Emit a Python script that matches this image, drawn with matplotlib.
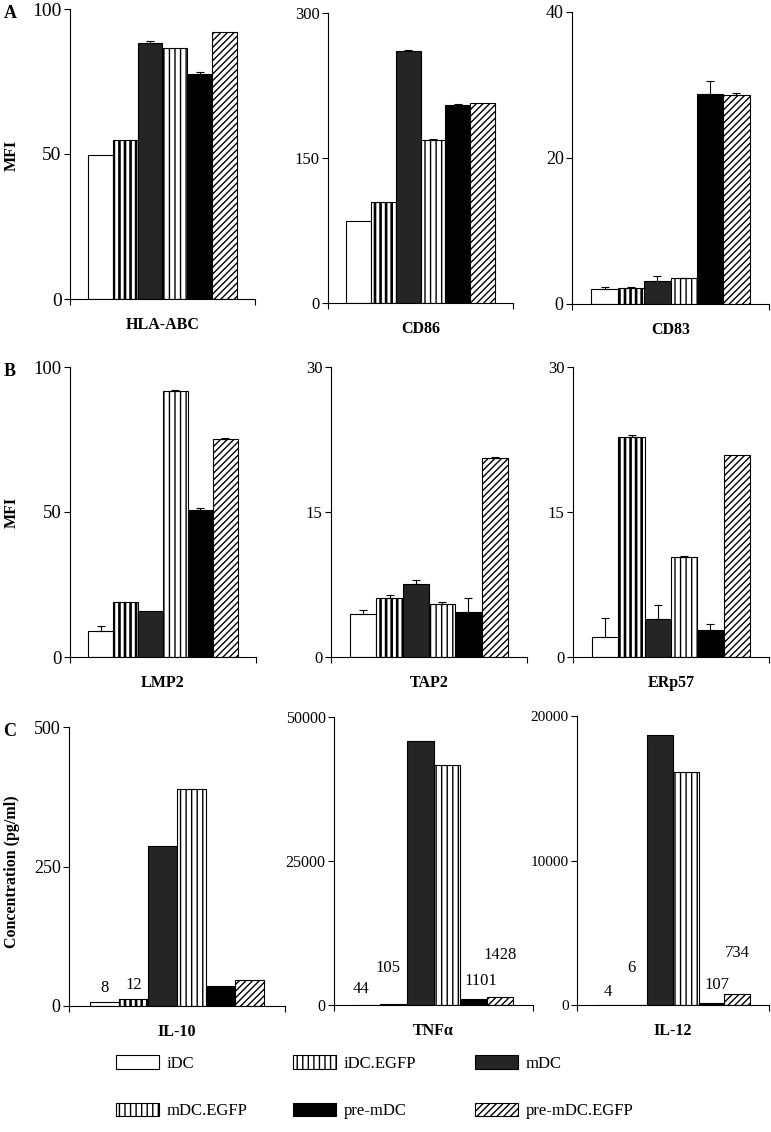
import numpy as np
import matplotlib
matplotlib.use("Agg")
import matplotlib.pyplot as plt
from matplotlib.patches import Patch

groups = ["iDC", "iDC.EGFP", "mDC", "mDC.EGFP", "pre-mDC", "pre-mDC.EGFP"]

hla_abc = [49.5, 55.0, 88.4, 86.4, 77.5, 92.2]
hla_abc_err = [0, 0, 0.5, 0, 0.8, 0]
cd86 = [85, 104, 260.5, 169, 204.5, 206.5]
cd86_err = [0, 0, 1.2, 1.0, 1.0, 0]
cd83 = [2.0, 2.2, 3.2, 3.5, 28.8, 28.6]
cd83_err = [0.3, 0.1, 0.7, 0.1, 1.7, 0.3]

lmp2 = [9.0, 18.8, 15.9, 91.7, 50.6, 75.1]
lmp2_err = [1.6, 0, 0, 0.3, 0.8, 0.3]
tap2 = [4.5, 6.1, 7.55, 5.5, 4.7, 20.6]
tap2_err = [0.4, 0.3, 0.4, 0.2, 1.4, 0.1]
erp57 = [2.1, 22.75, 3.9, 10.3, 2.8, 20.9]
erp57_err = [1.9, 0.2, 1.5, 0.2, 0.6, 0]

il10 = [8, 12, 287, 388, 36, 47]
tnfa = [44, 105, 45760, 41590, 1101, 1428]
il12 = [4, 6, 18710, 16090, 107, 734]
il10_labels = ["8", "12", "", "", "", ""]
tnfa_labels = ["44", "105", "", "", "1101", "1428"]
il12_labels = ["4", "6", "", "", "107", "734"]

ymax = [100, 300, 40, 100, 30, 30, 500, 50000, 20000]
names = ["HLA-ABC", "CD86", "CD83", "LMP2", "TAP2", "ERp57", "IL-10", "TNF\u03b1", "IL-12"]

# styles
face = ["white", "white", "#252525", "white", "black", "white"]
hatch = [None, "|||", None, "|||", None, "/////"]
hatch_lw = [1.0, 1.9, 1.0, 1.0, 1.0, 1.0]
tick_fs = [14, 12, 13, 13.5, 12, 12, 13, 11.5, 11]

# label offsets (pixels) for the cytokine value labels
lab_off = {
    6: {0: (0, 6), 1: (0, 6)},
    7: {0: (-6, 8), 1: (-6, 28), 4: (7, 10), 5: (0, 34)},
    8: {0: (-1, 5), 1: (-3, 29), 4: (5, 10), 5: (0, 33)},
}

plt.rcParams["font.family"] = ["Liberation Serif", "DejaVu Serif"]
plt.rcParams["font.size"] = 11.5

W, H = 771, 1132
fig = plt.figure(figsize=(W / 100, H / 100), dpi=100)

# panel boxes in pixels: left, right, top, bottom
boxes = [(70, 255, 9, 299), (328, 513, 13, 303), (572, 769, 12, 304),
         (70, 256, 367, 657), (331, 527, 367, 657), (573, 769, 367, 657),
         (69, 285, 727, 1006), (334, 533, 717, 1005), (577, 769, 716, 1005)]

data = [hla_abc, cd86, cd83, lmp2, tap2, erp57, il10, tnfa, il12]
errs = [hla_abc_err, cd86_err, cd83_err, lmp2_err, tap2_err, erp57_err, None, None, None]
labels = [None] * 6 + [il10_labels, tnfa_labels, il12_labels]

bw = 0.134
xs = 0.5 + (np.arange(6) - 2.5) * bw

for k in range(9):
    l, r, t, b = boxes[k]
    ax = fig.add_axes([l / W, 1 - b / H, (r - l) / W, (b - t) / H])
    vals = data[k]
    for i in range(6):
        with plt.rc_context({"hatch.linewidth": hatch_lw[i]}):
            bars = ax.bar(xs[i], vals[i], width=bw, color=face[i], edgecolor="black",
                          linewidth=0.8, hatch=hatch[i])
        if hasattr(bars[0], "set_hatch_linewidth"):
            bars[0].set_hatch_linewidth(hatch_lw[i])
    if errs[k] is not None:
        e = np.array(errs[k])
        m = e > 0
        ax.errorbar(xs[m], np.array(vals)[m], yerr=[np.zeros(m.sum()), e[m]], fmt="none",
                    ecolor="black", elinewidth=0.8, capsize=2.9, capthick=0.8)
    if labels[k] is not None:
        for i, s in enumerate(labels[k]):
            if s:
                dx, dy = lab_off[k][i]
                ax.annotate(s, (xs[i], vals[i]), xytext=(dx, dy), textcoords="offset pixels",
                            ha="center", va="bottom", fontsize=12)
    ax.set_xlim(0, 1)
    ax.set_ylim(0, ymax[k])
    ax.set_yticks([0, ymax[k] / 2, ymax[k]])
    ax.set_yticklabels([f"{v:g}" for v in [0, ymax[k] / 2, ymax[k]]])
    ax.set_xticks([0, 1])
    ax.set_xticklabels([])
    ax.tick_params(direction="out", length=4.5, width=0.8, pad=1.5)
    ax.tick_params(axis="y", labelsize=tick_fs[k])
    for s in ["top", "right"]:
        ax.spines[s].set_visible(False)
    for s in ["left", "bottom"]:
        ax.spines[s].set_linewidth(0.8)
    ax.set_xlabel(names[k], fontweight="bold", fontsize=11.5, labelpad=7)

# row labels and panel letters
fig.text(12 / W, 1 - 155 / H, "MFI", rotation=90, fontweight="bold", ha="center", va="center")
fig.text(12 / W, 1 - 512 / H, "MFI", rotation=90, fontweight="bold", ha="center", va="center")
fig.text(12 / W, 1 - 872 / H, "Concentration (pg/ml)", rotation=90, fontweight="bold",
         ha="center", va="center")
for letter, y in zip(["A", "B", "C"], [13, 372, 731]):
    fig.text(10 / W, 1 - y / H, letter, fontweight="bold", fontsize=13, ha="center", va="center")

# legend, one column at a time
handles = []
for i in range(6):
    h = Patch(facecolor=face[i], edgecolor="black", linewidth=0.8, hatch=hatch[i], label=groups[i])
    handles.append(h)
cols = [(0, 3), (1, 4), (2, 5)]
col_x = [116, 293, 475]
for (a, c), x in zip(cols, col_x):
    fig.legend(handles=[handles[a], handles[c]], loc="upper left",
               bbox_to_anchor=(x / W, 1 - 1055 / H), frameon=False, fontsize=12,
               borderpad=0, borderaxespad=0, handlelength=2.6, handleheight=0.9,
               handletextpad=0.45, labelspacing=1.85)

fig.savefig("out.png", dpi=100)
plt.close()
